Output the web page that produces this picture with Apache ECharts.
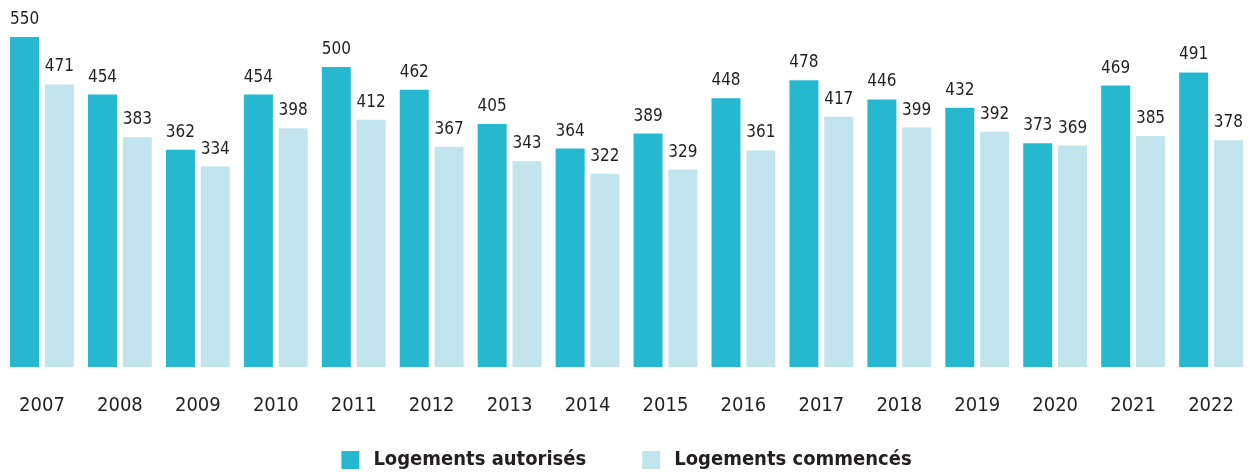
<!DOCTYPE html>
<html>
<head>
<meta charset="utf-8">
<script src="https://cdn.jsdelivr.net/npm/echarts@6/dist/echarts.min.js"></script>
<style>
  html, body { margin: 0; padding: 0; background: #fff; }
  #chart { width: 1253px; height: 472px; }
</style>
</head>
<body>
<div id="chart"></div>
<script>
const years = ['2007', '2008', '2009', '2010', '2011', '2012', '2013', '2014',
  '2015', '2016', '2017', '2018', '2019', '2020', '2021', '2022']
const autorises = [550, 454, 362, 454, 500, 462, 405, 364, 389, 448, 478, 446, 432, 373, 469, 491]
const commences = [471, 383, 334, 398, 412, 367, 343, 322, 329, 361, 417, 399, 392, 369, 385, 378]

// pas de police étroite type "Trade Gothic Condensed" ici, on prend la plus proche
const font = "'DejaVu Sans Condensed', 'Liberation Sans Narrow', sans-serif"

const chart = echarts.init(document.getElementById('chart'))

const labelStyle = {
  show: true,
  position: 'top',
  distance: 9,
  fontFamily: font,
  fontSize: 17,
  color: '#231f20'
}

chart.setOption({
  animation: false,
  grid: { left: 3, right: 3, top: 7, bottom: 105 },
  legend: {
    bottom: -3,
    left: 'center',
    itemWidth: 18,
    itemHeight: 18,
    itemGap: 56,
    icon: 'rect',
    textStyle: {
      fontFamily: font,
      fontSize: 20,
      fontWeight: 'bold',
      color: '#231f20',
      padding: [0, 0, 0, 9]
    },
    data: ['Logements autorisés', 'Logements commencés']
  },
  xAxis: {
    type: 'category',
    data: years,
    axisLine: { show: false },
    axisTick: { show: false },
    axisLabel: {
      margin: 29,
      fontFamily: font,
      fontSize: 20,
      color: '#231f20'
    }
  },
  yAxis: {
    type: 'value',
    min: 0,
    max: 600,
    show: false,
    splitLine: { show: false }
  },
  series: [
    {
      name: 'Logements autorisés',
      type: 'bar',
      data: autorises,
      barWidth: 29,
      barGap: '20%',
      itemStyle: { color: '#26b8ce' },
      label: labelStyle
    },
    {
      name: 'Logements commencés',
      type: 'bar',
      data: commences,
      barWidth: 29,
      itemStyle: { color: '#c2e4ec' },
      label: labelStyle
    }
  ]
})
</script>
</body>
</html>
